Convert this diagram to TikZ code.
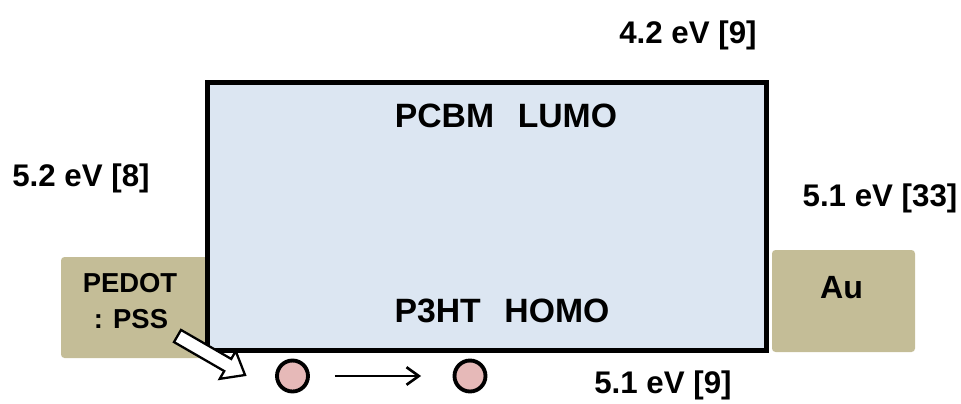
\documentclass[tikz,border=0pt]{standalone}
\usepackage{fontspec}
\setmainfont{Liberation Sans}
\usepackage{tikz}
\usetikzlibrary{arrows.meta}

\definecolor{bandfill}{HTML}{DCE6F2}
\definecolor{contactfill}{HTML}{C4BD97}
\definecolor{holefill}{HTML}{E6B9B8}

\begin{document}
\begin{tikzpicture}[x=0.02cm, y=-0.02cm,
    lbl/.style={font=\fontsize{17.8}{21}\selectfont\bfseries, inner sep=0pt, anchor=base},
    bandlbl/.style={lbl, font=\fontsize{19.2}{23}\selectfont\bfseries},
    contact/.style={fill=contactfill, rounded corners=2pt},
    hole/.style={circle, draw, line width=2.2pt, fill=holefill, minimum size=0.62cm, inner sep=0pt}]
            \useasboundingbox (0,0) rectangle (961,403);

            % Define contacts
            \fill[contact] (61,257) rectangle (215,358);
            \fill[contact] (772,250) rectangle (915,352);

            % Draw blend box
            \draw[line width=2.85pt, fill=bandfill] (207.5,82.5) rectangle (766.5,350);

            % Add labels
            \node[bandlbl] (lumo) at (506,127) {PCBM\hspace{0.7em}LUMO};
            \node[bandlbl] (homo) at (502,322) {P3HT\hspace{0.7em}HOMO};
            \node[lbl] (elumo) at (688,43) {4.2 eV [9]};
            \node[lbl] (epedot) at (81,186) {5.2 eV [8]};
            \node[lbl] (eau) at (880,206) {5.1 eV [33]};
            \node[lbl] (ehomo) at (663,393) {5.1 eV [9]};
            \node[lbl, font=\fontsize{15.6}{20}\selectfont\bfseries] (pedot) at (130,292) {PEDOT};
            \node[lbl, font=\fontsize{15.6}{20}\selectfont\bfseries] (pss) at (131,328) {: PSS};
            \node[lbl, font=\fontsize{18.3}{22}\selectfont\bfseries] (au) at (841.5,298) {Au};

            % Add holes
            \node[hole] (h_1) at (292.5,376) {};
            \node[hole] (h_2) at (470,376) {};
            \draw[line width=1.5pt, -{Straight Barb[length=7pt,width=10pt]}, shorten <=0.5cm, shorten >=0.63cm] (h_1) -- (h_2);

            % Injection arrow
            \begin{scope}[shift={(177.5,336)}, rotate=-30]
                \draw[line width=1.3pt, fill=white, line join=miter]
                    (0,-7) -- (58,-7) -- (58,-16) -- (78,0) -- (58,16) -- (58,7) -- (0,7) -- cycle;
            \end{scope}
\end{tikzpicture}
\end{document}
